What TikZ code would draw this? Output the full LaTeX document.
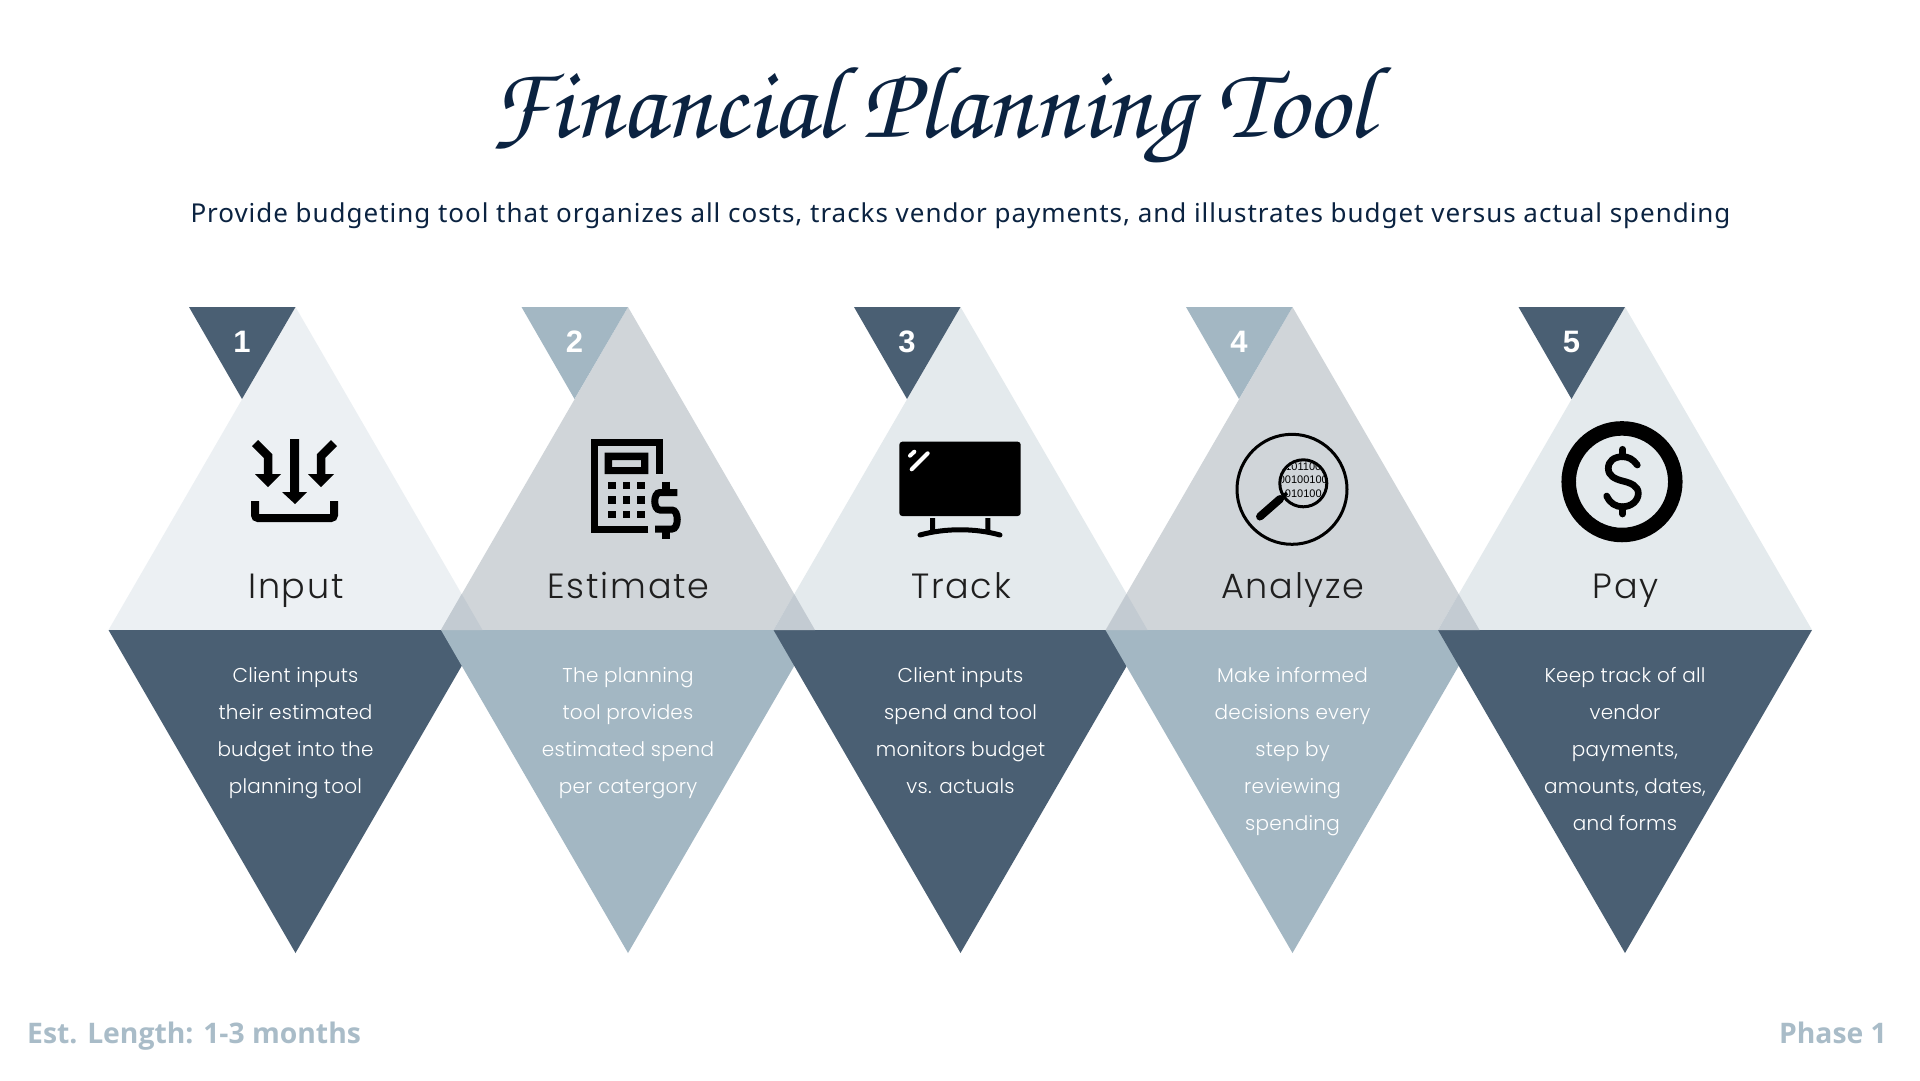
\documentclass[tikz,border=0pt]{standalone}
\usepackage{fontspec}
\newfontfamily\titlefont{TeX Gyre Chorus}
\newfontfamily\subfont[LetterSpace=3.7]{Noto Sans}
\newfontfamily\footfont{Open Sans}
\newfontfamily\labfont[LetterSpace=5]{Poppins Light}
\newfontfamily\bodyfont[LetterSpace=1.2]{Poppins Light}
\newfontfamily\numfont{Liberation Sans}
\definecolor{navy}{HTML}{0B2341}
\definecolor{dark}{HTML}{4A5F73}
\definecolor{pale}{HTML}{A3B7C3}
\definecolor{foot}{HTML}{A9BCC8}
\definecolor{upa}{HTML}{ECF0F3}
\definecolor{upb}{HTML}{D0D5D9}
\definecolor{upc}{HTML}{E4EAED}
\definecolor{lap}{HTML}{C3CBD2}
\tikzset{
  labeltext/.style={anchor=base,inner sep=0pt,text=black!88,font=\labfont\fontsize{35}{40}\selectfont},
  bodytext/.style={anchor=north,inner sep=0pt,align=center,text=white,font=\bodyfont\fontsize{20}{37}\selectfont},
  numtext/.style={anchor=base,inner sep=0pt,text=white,font=\numfont\bfseries\fontsize{31}{36}\selectfont},
  foottext/.style={anchor=base,inner sep=0pt,text=foot,font=\footfont\bfseries\fontsize{28.3}{36}\selectfont},
  digittext/.style={anchor=center,inner sep=0pt,font=\numfont\fontsize{11}{12}\selectfont},
  icon/.style={line width=#1,draw=black,fill=none,line join=miter},
}
\begin{document}
\begin{tikzpicture}[x=1pt,y=-1pt]
\useasboundingbox (0,0) rectangle (1920,1080);
\fill[white] (0,0) rectangle (1920,1080);
% diamonds, painted in order
\foreach \cx/\up/\low/\tip in {295.5/upa/dark/dark,628/upb/pale/pale,960.5/upc/dark/dark,1292.5/upb/pale/pale,1625/upc/dark/dark}{
  \fill[\up] (\cx,307) -- (\cx+187,630) -- (\cx-187,630) -- cycle;
  \fill[\low] (\cx-187,630) -- (\cx+187,630) -- (\cx,953) -- cycle;
  \fill[\tip] (\cx-106.5,307) -- (\cx,307) -- (\cx-53.5,399) -- cycle;
}
\foreach \cx in {295.5,628,960.5,1292.5}{
  \fill[lap] (\cx+145.5,630) -- (\cx+187,630) -- (\cx+166.2,594) -- cycle;
}
% title and subtitle
\node[anchor=base,inner sep=0pt,text=navy] (title) at (931,137)
  {\titlefont\fontsize{103}{110}\selectfont Financial Planning Tool};
\node[anchor=base,inner sep=0pt,text=navy,font=\subfont\fontsize{26}{32}\selectfont] (subtitle) at (960.5,222)
  {Provide budgeting tool that organizes all costs, tracks vendor payments, and illustrates budget versus actual spending};
% numbers
\node[numtext] (n1) at (242,352) {1};
\node[numtext] (n2) at (574.5,352) {2};
\node[numtext] (n3) at (907,352) {3};
\node[numtext] (n4) at (1239,352) {4};
\node[numtext] (n5) at (1571.5,352) {5};
% labels
\node[labeltext] (l1) at (296,598) {Input};
\node[labeltext] (l2) at (628.5,598) {Estimate};
\node[labeltext] (l3) at (961,598) {Track};
\node[labeltext] (l4) at (1293,598) {Analyze};
\node[labeltext] (l5) at (1625.5,598) {Pay};
% bodies
\node[bodytext] (b1) at (295.5,667.5) {Client inputs\\their estimated\\budget into the\\planning tool};
\node[bodytext] (b2) at (628,667.5) {The planning\\tool provides\\estimated spend\\per catergory};
\node[bodytext] (b3) at (960.5,667.5) {Client inputs\\spend and tool\\monitors budget\\vs. actuals};
\node[bodytext] (b4) at (1292.5,667.5) {Make informed\\decisions every\\step by\\reviewing\\spending};
\node[bodytext] (b5) at (1625,667.5) {Keep track of all\\vendor\\payments,\\amounts, dates,\\and forms};
% footer
\node[foottext,anchor=base west] (fl) at (27,1043) {Est. Length: 1-3 months};
\node[foottext,anchor=base east] (fr) at (1887,1043) {Phase 1};
% icon 1
\fill (290,439) -- (299,439) -- (299,492) -- (307,492) -- (295,504) -- (282,492) -- (290,492) -- cycle;
\draw[icon=8.5pt] (255,443) -- (268,456) -- (268,475);
\fill (255,474) -- (281,474) -- (268,487) -- cycle;
\draw[icon=8.5pt] (334,443) -- (321,456) -- (321,475);
\fill (308,474) -- (334,474) -- (321,487) -- cycle;
\draw[icon=8pt,rounded corners=3pt] (255,501) -- (255,518) -- (334,518) -- (334,501);
% icon 2
\draw[icon=7pt] (648.3,529) -- (594,529) -- (594,442.5) -- (659,442.5) -- (659,474);
\fill[even odd rule] (604.7,452.7) rectangle (648.3,474) (612,460) rectangle (641,467);
\foreach \kx in {608.3,622.7,637.3}{\foreach \ky in {481.7,496.3,510.7}{
  \fill (\kx,\ky) rectangle +(7.3,7.3);
}}
\draw[icon=7pt] (677.3,492.5) -- (660,492.5) .. controls (653,492.5) and (653,510) .. (660,510) -- (672,510) .. controls (679,510) and (679,529) .. (672,529) -- (655,529);
\draw[icon=7.6pt] (666,481.7) -- (666,492.5) (666,529) -- (666,539);
% icon 3
\fill[rounded corners=3pt] (899.3,441.7) rectangle (1020.7,516);
\draw[white,line width=4pt,line cap=round] (910,455.7) -- (914.3,451.7) (911.7,469.3) -- (927.7,453.3);
\fill (930,518) rectangle (935,530) (985.3,518) rectangle (990.3,530);
\draw[line width=5pt,line cap=round] (920,535) .. controls (945,528) and (975,528) .. (1000,535);
% icon 4
\draw[line width=3pt] (1292,489.3) circle (55);
\draw[line width=3pt] (1303.3,483.3) circle (23.5);
\begin{scope}
\clip (1303.3,483.3) circle (22);
\node[digittext] (d1) at (1303.3,466.5) {101100};
\node[digittext] (d2) at (1303.3,480) {00100100};
\node[digittext] (d3) at (1303.3,493.5) {010100};
\end{scope}
\draw[line width=8pt,line cap=round] (1260,516.5) -- (1280,499);
\draw[line width=3.5pt] (1278,501) -- (1287,493);
% icon 5
\draw[line width=14.5pt] (1622,481.7) circle (53.3);
\draw[line width=6.7pt,line cap=round] (1637.3,465) .. controls (1633,459) and (1628,456.7) .. (1622.7,456.7) .. controls (1614,456.7) and (1608.3,461) .. (1608.3,468.3) .. controls (1608.3,476) and (1615,479) .. (1622.7,481) .. controls (1631,483) and (1638.3,486) .. (1638.3,493.3) .. controls (1638.3,501) and (1631,506.7) .. (1622.7,506.7) .. controls (1615,506.7) and (1610,503) .. (1606.7,496);
\draw[line width=6.7pt,line cap=round] (1622.7,449.3) -- (1622.7,456.7) (1622.7,506.7) -- (1622.7,514);
\end{tikzpicture}
\end{document}
